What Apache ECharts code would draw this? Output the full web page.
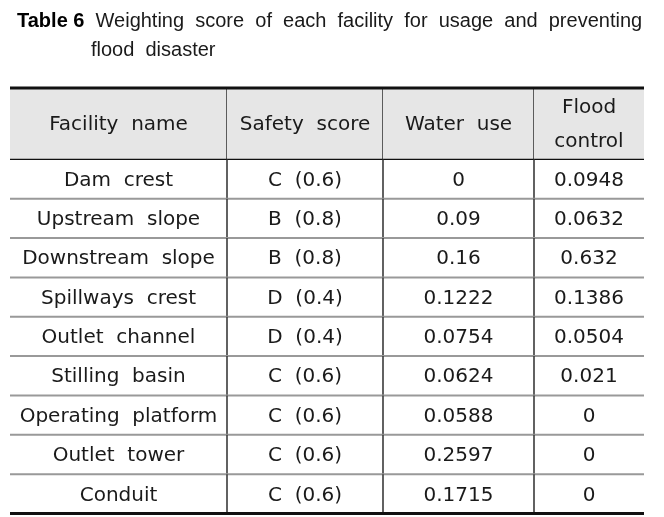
<!DOCTYPE html>
<html>
<head>
<meta charset="utf-8">
<script src="https://cdn.jsdelivr.net/npm/echarts@6/dist/echarts.min.js"></script>
<style>html,body{margin:0;padding:0;background:#fff;}#c{width:664px;height:517px;}</style>
</head>
<body>
<div id="c"></div>
<script>
// ---- data ----
var headers = ['Facility  name', 'Safety  score', 'Water  use', 'Flood\ncontrol'];
var facilities = ['Dam  crest', 'Upstream  slope', 'Downstream  slope', 'Spillways  crest', 'Outlet  channel', 'Stilling  basin', 'Operating  platform', 'Outlet  tower', 'Conduit'];
var safetyScores = ['C  (0.6)', 'B  (0.8)', 'B  (0.8)', 'D  (0.4)', 'D  (0.4)', 'C  (0.6)', 'C  (0.6)', 'C  (0.6)', 'C  (0.6)'];
var waterUse = ['0', '0.09', '0.16', '0.1222', '0.0754', '0.0624', '0.0588', '0.2597', '0.1715'];
var floodControl = ['0.0948', '0.0632', '0.632', '0.1386', '0.0504', '0.021', '0', '0', '0'];
var titleLabel = 'Table 6';
var titleLine1 = 'Weighting  score  of  each  facility  for  usage  and  preventing';
var titleLine2 = 'flood  disaster';

// ---- layout (table geometry in axis units) ----
var colWidths = [217, 156, 151, 110];
var headerHeight = 71.5;
var rowHeight = 39.4;

var colEdges = [0];
colWidths.forEach(function (w, i) { colEdges.push(colEdges[i] + w); });
var rowEdges = [0, headerHeight];
for (var r = 0; r < facilities.length; r++) rowEdges.push(rowEdges[r + 1] + rowHeight);

var nRows = facilities.length + 1;
var cells = [];
headers.forEach(function (h, c) { cells.push([c, 0, h]); });
facilities.forEach(function (f, i) {
  cells.push([0, i + 1, f]);
  cells.push([1, i + 1, safetyScores[i]]);
  cells.push([2, i + 1, waterUse[i]]);
  cells.push([3, i + 1, floodControl[i]]);
});

var FONT = '"DejaVu Sans", sans-serif';
var TFONT = '"Liberation Sans", Arial, sans-serif';

function renderCell(params, api) {
  var c = api.value(0), r = api.value(1);
  var p0 = api.coord([colEdges[c], rowEdges[r]]);
  var p1 = api.coord([colEdges[c + 1], rowEdges[r + 1]]);
  var x0 = p0[0], y0 = p0[1], x1 = p1[0], y1 = p1[1];
  var children = [];
  if (r === 0) {
    children.push({ type: 'rect', shape: { x: x0, y: y0, width: x1 - x0, height: y1 - y0 }, style: { fill: '#e6e6e6' } });
  }
  if (c < colWidths.length - 1) {
    children.push({ type: 'line', shape: { x1: x1, y1: y0, x2: x1, y2: y1 }, style: { stroke: '#3a3a3a', lineWidth: 1.6 } });
  }
  if (r === 0) {
    children.push({ type: 'line', shape: { x1: x0, y1: y1, x2: x1, y2: y1 }, style: { stroke: '#111', lineWidth: 1.2 } });
    children.push({ type: 'line', shape: { x1: x0, y1: y0, x2: x1, y2: y0 }, style: { stroke: '#111', lineWidth: 3 } });
  } else if (r === nRows - 1) {
    children.push({ type: 'line', shape: { x1: x0, y1: y1, x2: x1, y2: y1 }, style: { stroke: '#111', lineWidth: 3 } });
  } else {
    children.push({ type: 'line', shape: { x1: x0, y1: y1, x2: x1, y2: y1 }, style: { stroke: '#999', lineWidth: 2 } });
  }
  children.push({
    type: 'text',
    x: (x0 + x1) / 2, y: (y0 + y1) / 2 + 1.5,
    style: {
      text: api.value(2), fill: '#1a1a1a', font: '20px ' + FONT,
      align: 'center', verticalAlign: 'middle', lineHeight: 34
    }
  });
  return { type: 'group', children: children };
}

var chart = echarts.init(document.getElementById('c'), null, { renderer: 'canvas' });
chart.setOption({
  animation: false,
  backgroundColor: '#fff',
  title: [
    {
      left: 12, top: 6,
      text: '{b|' + titleLabel + '}  ' + titleLine1,
      textStyle: {
        fontFamily: TFONT, fontSize: 20, fontWeight: 'normal', color: '#1a1a1a',
        rich: { b: { fontFamily: TFONT, fontSize: 20, fontWeight: 'bold', color: '#000' } }
      }
    },
    {
      left: 86, top: 35,
      text: titleLine2,
      textStyle: { fontFamily: TFONT, fontSize: 20, fontWeight: 'normal', color: '#1a1a1a' }
    }
  ],
  grid: { left: 10, top: 88, width: 634, height: 425.5 },
  xAxis: { type: 'value', min: 0, max: colEdges[colEdges.length - 1], show: false },
  yAxis: { type: 'value', min: 0, max: rowEdges[rowEdges.length - 1], inverse: true, show: false },
  series: [{
    type: 'custom',
    renderItem: renderCell,
    data: cells,
    encode: { x: 0, y: 1 },
    silent: true
  }]
});
</script>
</body>
</html>
